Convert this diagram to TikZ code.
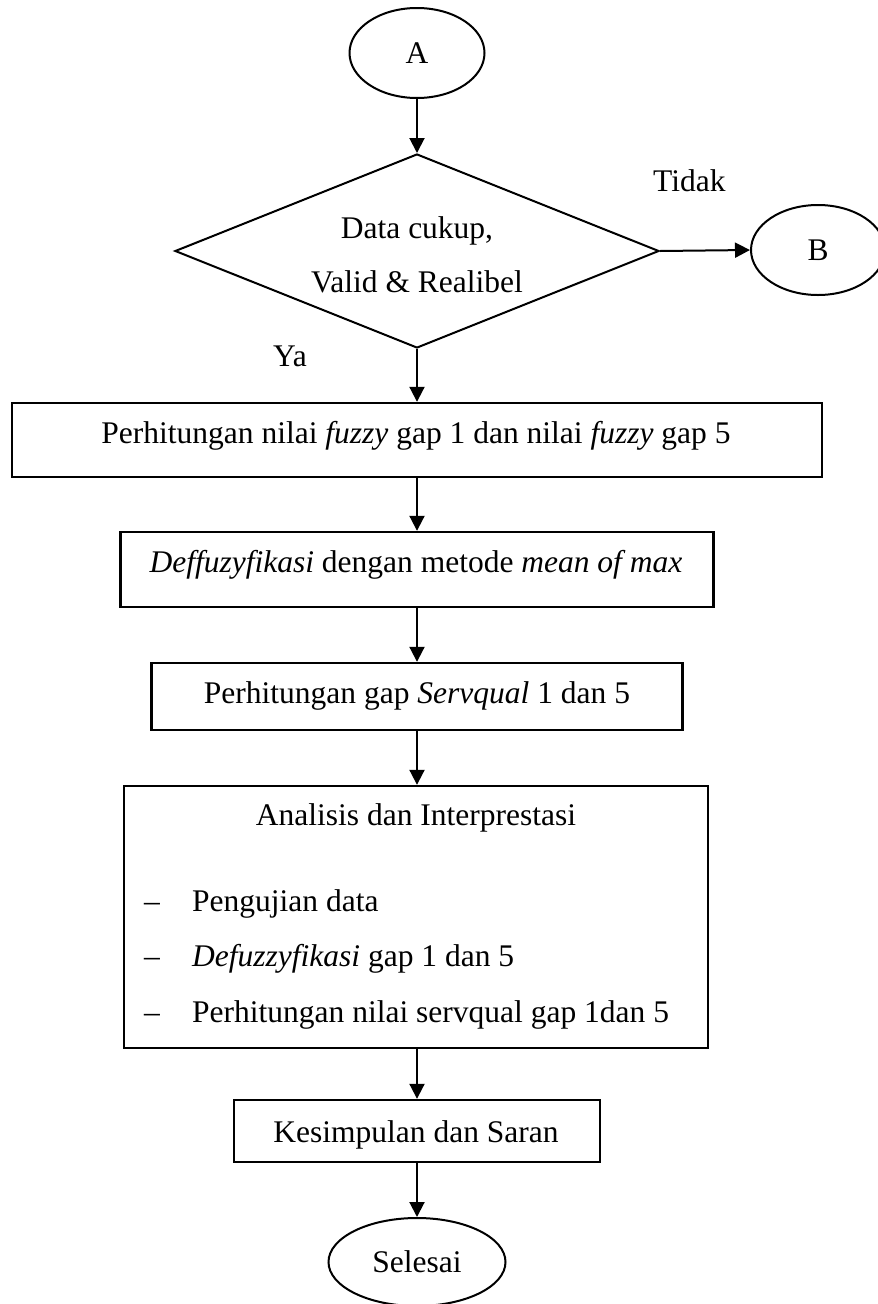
\documentclass[tikz,border=0pt]{standalone}
\usepackage{fontspec}
\setmainfont{Liberation Serif}
\usetikzlibrary{shapes.geometric,arrows.meta}
\begin{document}
\begin{tikzpicture}[x=1pt,y=-1pt,
  every node/.style={font=\fontsize{31.5pt}{38pt}\selectfont},
  boxn/.style={draw,line width=2.4pt,inner sep=0pt,rectangle},
  ovaln/.style={draw,line width=2pt,ellipse,inner sep=0pt},
  txt/.style={inner sep=0pt,anchor=base},
  txtw/.style={inner sep=0pt,anchor=base west},
  arr/.style={line width=2pt,-{Triangle[length=15pt,width=15pt]}}
]
\useasboundingbox (0,0) rectangle (878,1304);

% terminals
\node[ovaln,minimum width=135pt,minimum height=90pt] (A) at (417,53) {A};
\node[ovaln,minimum width=134pt,minimum height=90pt] (B) at (818,250) {B};
\node[ovaln,minimum width=177pt,minimum height=88pt] (S) at (417,1262) {Selesai};

% decision
\node[draw,line width=2pt,diamond,inner sep=0pt,minimum width=484pt,minimum height=194pt] (d) at (417,251) {};
\node[txt] (d1) at (417,238) {Data cukup,};
\node[txt] (d2) at (417,292) {Valid \& Realibel};
\node[txtw] (tidak) at (653,191) {Tidak};
\node[txtw] (ya) at (273,366) {Ya};

% process boxes
\node[boxn,minimum width=810pt,minimum height=74pt] (b1) at (417,440) {};
\node[txt] (t1) at (416,443) {Perhitungan nilai \textit{fuzzy} gap 1 dan nilai \textit{fuzzy} gap 5};

\node[boxn,minimum width=593pt,minimum height=75pt] (b2) at (417,569.5) {};
\node[txt] (t2) at (416,572) {\textit{Deffuzyfikasi} dengan metode \textit{mean of max}};

\node[boxn,minimum width=531pt,minimum height=67pt] (b3) at (417,696.5) {};
\node[txt] (t3) at (417,703) {Perhitungan gap \textit{Servqual} 1 dan 5};

\node[boxn,minimum width=584pt,minimum height=262pt] (b4) at (416,917) {};
\node[txt] (t4) at (416,825) {Analisis dan Interprestasi};
\node[txtw] (m1) at (144,911) {–};
\node[txtw] (i1) at (192,911) {Pengujian data};
\node[txtw] (m2) at (144,966) {–};
\node[txtw] (i2) at (192,966) {\textit{Defuzzyfikasi} gap 1 dan 5};
\node[txtw] (m3) at (144,1022) {–};
\node[txtw] (i3) at (192,1022) {Perhitungan nilai servqual gap 1dan 5};

\node[boxn,minimum width=366pt,minimum height=62pt] (b5) at (417,1131) {};
\node[txt] (t5) at (416,1142) {Kesimpulan dan Saran};

% connectors
\draw[arr] (A.south) -- (d.north);
\draw[arr] (d.east) -- (B.west);
\draw[arr] (d.south) -- (b1.north);
\draw[arr] (b1.south) -- (b2.north);
\draw[arr] (b2.south) -- (b3.north);
\draw[arr] (b3.south) -- (b4.north -| b3.south);
\draw[arr] (b4.south -| b5.north) -- (b5.north);
\draw[arr] (b5.south) -- (S.north);
\end{tikzpicture}
\end{document}
